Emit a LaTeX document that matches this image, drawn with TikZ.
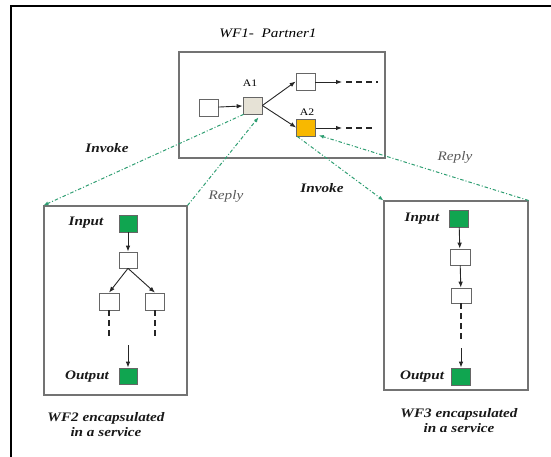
\documentclass[tikz,border=0pt]{standalone}
\usepackage{fontspec}
\setmainfont[FakeStretch=1.17]{Liberation Serif}
\usetikzlibrary{arrows.meta,calc}
\definecolor{msggreen}{HTML}{2E9E72}
\definecolor{taskgreen}{HTML}{10A550}
\definecolor{taskorange}{HTML}{F8B800}
\definecolor{taskgrey}{HTML}{E6E2D6}
\tikzset{
  wfbox/.style={draw=black!55, line width=1.1pt, inner sep=0pt},
  task/.style={draw=black!60, fill=white, line width=0.7pt, minimum width=19pt, minimum height=17pt, inner sep=0pt},
  gtask/.style={task, fill=taskgreen},
  flow/.style={-{Latex[length=6pt,width=4.5pt]}, line width=0.9pt, draw=black!85},
  cont/.style={dashed, dash pattern=on 6pt off 4pt, line width=1.6pt, draw=black!85},
  msg/.style={-{Latex[length=5pt,width=4pt]}, draw=msggreen, line width=1pt, dash pattern=on 3.5pt off 2pt on 1pt off 2pt},
  lbl/.style={font=\fontsize{13}{15}\selectfont\bfseries\itshape, text=black!90, inner sep=0pt},
  rlbl/.style={font=\fontsize{13}{15}\selectfont\itshape, text=black!65, inner sep=0pt},
  alabel/.style={font=\fontsize{10}{12}\selectfont, inner sep=0pt},
}
\begin{document}
\begin{tikzpicture}[x=1pt,y=-1pt]
\useasboundingbox (0,0) rectangle (551,457);
% outer frame
\draw[line width=2pt] (11,457) -- (11,6) -- (551,6);

% WF1
\node[font=\fontsize{13}{15}\selectfont\itshape, inner sep=0pt] (t1) at (268,33) {WF1-\ \ Partner1};
\node[wfbox, minimum width=206pt, minimum height=106pt] (WF1) at (282,105) {};
\node[task] (s0) at (208.5,107.5) {};
\node[task, fill=taskgrey] (A1) at (252.5,105.5) {};
\node[alabel] (A1l) at (250,83) {A1};
\node[task] (up) at (305.5,81.5) {};
\node[task, fill=taskorange] (A2) at (306,127.5) {};
\node[alabel] (A2l) at (307,112) {A2};
\coordinate (upa) at (342,82);
\coordinate (upb) at (346,82);
\coordinate (upc) at (378,82);
\coordinate (a2a) at (342,128);
\coordinate (a2b) at (346,128);
\coordinate (a2c) at (374,128);
\draw[flow] (s0) -- (A1);
\draw[flow] (A1.east) -- (up.west);
\draw[flow] (A1.east) -- (A2.west);
\draw[flow] (up.east |- upa) -- (upa);
\draw[cont] (upb) -- (upc);
\draw[flow] (A2.east |- a2a) -- (a2a);
\draw[cont] (a2b) -- (a2c);

% WF2
\node[wfbox, minimum width=143pt, minimum height=189pt] (WF2) at (115.5,300.5) {};
\node[lbl] (in2l) at (86,223) {Input};
\node[gtask, minimum width=18pt] (in2) at (128,223.5) {};
\node[task, minimum width=18pt, minimum height=16pt] (m2) at (128,260) {};
\node[task, minimum width=20pt] (l2) at (109,301.5) {};
\node[task] (r2) at (155,301.5) {};
\coordinate (l2e) at (109,340);
\coordinate (r2e) at (155,340);
\coordinate (o2s) at (128,345);
\node[gtask, minimum width=18pt, minimum height=16pt] (out2) at (128,376) {};
\node[lbl] (out2l) at (87,377) {Output};
\draw[flow] (in2) -- (m2);
\draw[flow] (m2.south) -- (l2.north);
\draw[flow] (m2.south) -- (r2.north);
\draw[cont] (l2) -- (l2e);
\draw[cont] (r2) -- (r2e);
\draw[flow] (o2s) -- (out2);
\node[lbl, align=center] (cap2) at (106,425) {WF2 encapsulated\\in a service};

% WF3
\node[wfbox, minimum width=144pt, minimum height=189pt] (WF3) at (456,295.5) {};
\node[lbl] (in3l) at (422,219) {Input};
\node[gtask] (in3) at (459,218.5) {};
\node[task, minimum width=20pt, minimum height=16pt] (b3) at (460,257) {};
\node[task, minimum width=20pt, minimum height=15pt] (c3) at (461,295.5) {};
\coordinate (c3e) at (461,342);
\coordinate (o3s) at (461,348);
\node[gtask] (out3) at (461,376.5) {};
\node[lbl] (out3l) at (422,377) {Output};
\draw[flow] (in3) -- (b3);
\draw[flow] (b3) -- (c3);
\draw[cont] (c3) -- (c3e);
\draw[flow] (o3s) -- (out3);
\node[lbl, align=center] (cap3) at (459,421) {WF3 encapsulated\\in a service};

% messages
\draw[msg] ([xshift=1pt]A1.south west) -- (WF2.north west);
\draw[msg] (WF2.north east) -- ([xshift=6pt,yshift=-3pt]A1.south);
\draw[msg] ([xshift=1pt]A2.south west) -- (WF3.north west);
\draw[msg] (WF3.north east) -- ([xshift=3pt,yshift=1pt]A2.south east);
\node[lbl] (inv1) at (107,148) {Invoke};
\node[rlbl] (rep1) at (226,196) {Reply};
\node[lbl] (inv2) at (322,188) {Invoke};
\node[rlbl] (rep2) at (455,157) {Reply};
\end{tikzpicture}
\end{document}
